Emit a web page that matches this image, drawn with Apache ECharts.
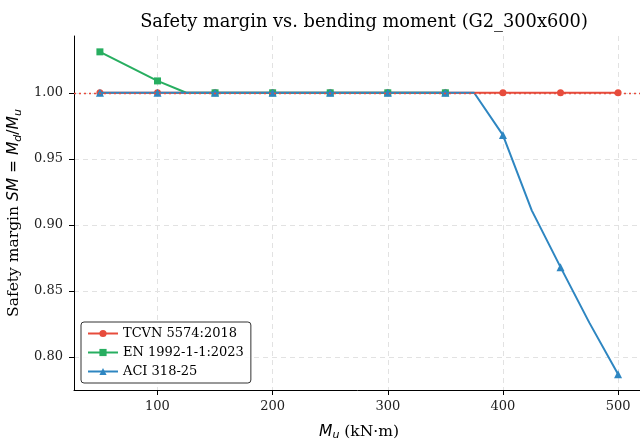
<!DOCTYPE html>
<html><head><meta charset="utf-8">
<script src="https://cdn.jsdelivr.net/npm/echarts@6/dist/echarts.min.js"></script>
<style>html,body{margin:0;padding:0;background:#fff}#c{width:640px;height:439px}</style>
</head><body><div id="c"></div>
<script>
var mu   = [50,75,100,125,150,175,200,225,250,275,300,325,350,375,400,425,450,475,500];
var tcvn = [1.0,1.0,1.0,1.0,1.0,1.0,1.0,1.0,1.0,1.0,1.0,1.0,1.0,1.0,1.0,1.0,1.0,1.0,1.0];
var en   = [1.031,1.020,1.009,1.0,1.0,1.0,1.0,1.0,1.0,1.0,1.0,1.0,1.0,null,null,null,null,null,null];
var aci  = [1.0,1.0,1.0,1.0,1.0,1.0,1.0,1.0,1.0,1.0,1.0,1.0,1.0,1.0,0.968,0.911,0.868,0.826,0.787];
var refLine = 1.0;
var xTicks = [100,200,300,400,500];
var yTicks = [0.80,0.85,0.90,0.95,1.00];
var names = ['TCVN 5574:2018','EN 1992-1-1:2023','ACI 318-25'];
var colors = ['#e74c3c','#27ae60','#2e86c1'];

function pairs(ys){var o=[];for(var i=0;i<mu.length;i++){if(ys[i]!==null)o.push([mu[i],ys[i]]);}return o;}
var serif = 'DejaVu Serif';
function mk(i, ys, sym, size){
  return {name:names[i], type:'line', data:pairs(ys), color:colors[i],
    symbol:sym, showAllSymbol:true,
    symbolSize:function(v,p){return p.dataIndex%2===0?size:0;},
    lineStyle:{width:2,color:colors[i]}, itemStyle:{color:colors[i]},
    emphasis:{disabled:true}, animation:false, z:2+i};
}
var s3 = mk(2,aci,'triangle',8);
s3.markLine = {silent:true, symbol:['none','none'], label:{show:false}, animation:false,
  lineStyle:{color:'#e74c3c',type:[2,3],width:1.3,opacity:1},
  emphasis:{disabled:true},
  data:[{yAxis:refLine, lineStyle:{color:'#e74c3c',type:[2,3],width:1.3}}]};
var chart = echarts.init(document.getElementById('c'),null,{renderer:'canvas'});
chart.setOption({
  animation:false,
  backgroundColor:'#fff',
  title:{text:'Safety margin vs. bending moment (G2_300x600)', left:359, top:8, textAlign:'center',
    textStyle:{fontFamily:serif,fontSize:17.8,fontWeight:'normal',color:'#000'}},
  grid:{left:74, top:36, width:570, height:354, containLabel:false, outerBoundsMode:'none'},
  legend:{orient:'vertical', left:81, top:322, data:names,
    itemWidth:30, itemHeight:9, itemGap:6, padding:[5,7,5,6],
    borderColor:'#333', borderWidth:1, borderRadius:3, backgroundColor:'rgba(255,255,255,0.85)',
    textStyle:{fontFamily:serif,fontSize:13,color:'#000'}},
  xAxis:{type:'value', min:27.5, max:522.5,
    name:'{i|M}{s|u}{a| (kN·m)}', nameLocation:'middle', nameGap:32,
    nameTextStyle:{rich:{
      i:{fontFamily:'DejaVu Sans',fontStyle:'italic',fontSize:15.5,color:'#000'},
      s:{fontFamily:'DejaVu Sans',fontStyle:'italic',fontSize:11,color:'#000',padding:[8,0,0,0]},
      a:{fontFamily:serif,fontSize:15.5,color:'#000'}}},
    axisLine:{show:true,lineStyle:{color:'#000',width:1}},
    axisTick:{show:true,length:5,customValues:xTicks,lineStyle:{color:'#000'}},
    axisLabel:{customValues:xTicks,fontFamily:serif,fontSize:13,color:'#222',margin:10},
    splitLine:{show:true,lineStyle:{color:'#e2e2e2',type:[5,4],width:1}}},
  yAxis:{type:'value', min:0.775, max:1.043,
    name:'{a|Safety margin }{i|SM}{b| = }{i|M}{s|d}{b|/}{i|M}{s|u}', nameLocation:'middle', nameGap:48,
    nameTextStyle:{rich:{
      a:{fontFamily:serif,fontSize:15.5,color:'#000'},
      b:{fontFamily:'DejaVu Sans',fontSize:15.5,color:'#000'},
      i:{fontFamily:'DejaVu Sans',fontStyle:'italic',fontSize:15.5,color:'#000'},
      s:{fontFamily:'DejaVu Sans',fontStyle:'italic',fontSize:11,color:'#000',padding:[8,0,0,0]}}},
    axisLine:{show:true,lineStyle:{color:'#000',width:1}},
    axisTick:{show:true,length:5,customValues:yTicks,lineStyle:{color:'#000'}},
    axisLabel:{customValues:yTicks,fontFamily:serif,fontSize:13,color:'#222',margin:11,
      formatter:function(v){return v.toFixed(2);}},
    splitLine:{show:true,lineStyle:{color:'#e2e2e2',type:[5,4],width:1}}},
  series:[
    mk(0,tcvn,'circle',7),
    mk(1,en,'rect',7),
    s3
  ]
});
</script></body></html>
